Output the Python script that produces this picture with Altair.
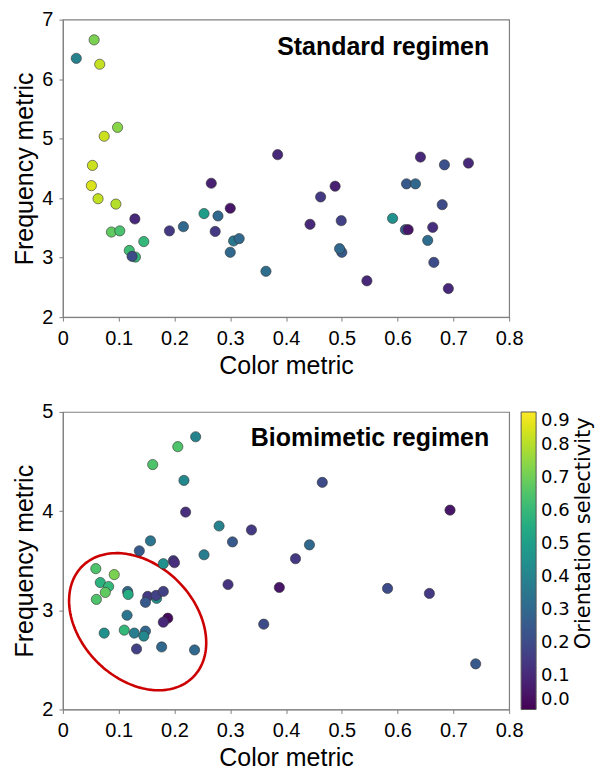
import altair as alt
import pandas as pd
import numpy as np

FONT = "Liberation Sans"
CB_FONT = "DejaVu Sans"

# ---------------- data ----------------
std_x = [0.024, 0.056, 0.066, 0.098, 0.074, 0.053, 0.051, 0.063, 0.095, 0.129,
         0.087, 0.102, 0.119, 0.130, 0.124, 0.145, 0.191, 0.216, 0.253, 0.266,
         0.278, 0.273, 0.300, 0.306, 0.316, 0.300, 0.364, 0.385, 0.443, 0.462,
         0.488, 0.499, 0.500, 0.496, 0.545, 0.591, 0.616, 0.632, 0.614, 0.619,
         0.641, 0.684, 0.727, 0.680, 0.663, 0.654, 0.665, 0.691]
std_y = [6.35, 6.66, 6.25, 5.19, 5.04, 4.55, 4.21, 3.99, 3.90, 3.65,
         3.43, 3.45, 3.12, 3.01, 3.02, 3.27, 3.45, 3.52, 3.74, 4.25,
         3.70, 3.44, 3.83, 3.28, 3.32, 3.09, 2.77, 4.73, 3.56, 4.02,
         4.20, 3.62, 3.09, 3.15, 2.61, 3.66, 4.24, 4.24, 3.47, 3.47,
         4.69, 4.56, 4.59, 3.89, 3.51, 3.29, 2.92, 2.48]
std_c = [0.40, 0.72, 0.82, 0.74, 0.83, 0.83, 0.85, 0.82, 0.80, 0.10,
         0.68, 0.64, 0.62, 0.60, 0.20, 0.60, 0.15, 0.30, 0.50, 0.08,
         0.30, 0.15, 0.05, 0.36, 0.30, 0.30, 0.32, 0.10, 0.10, 0.15,
         0.08, 0.17, 0.25, 0.30, 0.10, 0.45, 0.25, 0.30, 0.25, 0.05,
         0.10, 0.22, 0.10, 0.20, 0.12, 0.32, 0.20, 0.10]

bio_x = [0.238, 0.206, 0.161, 0.217, 0.220, 0.280, 0.338, 0.304, 0.157, 0.137,
         0.253, 0.442, 0.417, 0.465, 0.180, 0.198, 0.200, 0.059, 0.092, 0.067,
         0.082, 0.076, 0.060, 0.116, 0.117, 0.152, 0.168, 0.167, 0.180, 0.148,
         0.115, 0.188, 0.180, 0.074, 0.110, 0.128, 0.148, 0.145, 0.132, 0.177,
         0.236, 0.296, 0.388, 0.360, 0.694, 0.582, 0.657, 0.740]
bio_y = [4.75, 4.65, 4.47, 4.31, 3.99, 3.85, 3.81, 3.69, 3.70, 3.60,
         3.56, 3.66, 3.52, 4.29, 3.47, 3.50, 3.48, 3.42, 3.36, 3.28,
         3.24, 3.18, 3.11, 3.19, 3.16, 3.14, 3.12, 3.15, 3.19, 3.08,
         2.95, 2.92, 2.88, 2.77, 2.80, 2.77, 2.79, 2.74, 2.61, 2.63,
         2.60, 3.26, 3.23, 2.86, 4.01, 3.22, 3.17, 2.46]
bio_c = [0.40, 0.65, 0.65, 0.42, 0.12, 0.40, 0.15, 0.25, 0.35, 0.25,
         0.38, 0.30, 0.15, 0.20, 0.45, 0.15, 0.12, 0.65, 0.72, 0.58,
         0.60, 0.68, 0.65, 0.30, 0.55, 0.15, 0.45, 0.17, 0.17, 0.25,
         0.35, 0.02, 0.10, 0.45, 0.60, 0.38, 0.30, 0.42, 0.17, 0.30,
         0.30, 0.13, 0.05, 0.20, 0.05, 0.20, 0.15, 0.25]

x_ticks = [0.0, 0.1, 0.2, 0.3, 0.4, 0.5, 0.6, 0.7, 0.8]
std_y_ticks = [2, 3, 4, 5, 6, 7]
bio_y_ticks = [2, 3, 4, 5]
cbar_ticks = [0.0, 0.1, 0.2, 0.3, 0.4, 0.5, 0.6, 0.7, 0.8, 0.9]

# highlighted cluster ellipse (center in data units, semi-axes in px, tilt in deg)
ell_center = (0.134, 2.885)
ell_axes_px = (78.5, 57.2)
ell_angle = 45.0

W, H = 447, 298

std_df = pd.DataFrame({"x": std_x, "y": std_y, "c": std_c})
bio_df = pd.DataFrame({"x": bio_x, "y": bio_y, "c": bio_c})

t = np.linspace(0, 2 * np.pi, 181)
th = np.deg2rad(ell_angle)
a, b = ell_axes_px
dx = a * np.cos(t) * np.cos(th) - b * np.sin(t) * np.sin(th)
dy = a * np.cos(t) * np.sin(th) + b * np.sin(t) * np.cos(th)
ell_df = pd.DataFrame({
    "x": ell_center[0] + dx / (W / 0.8),
    "y": ell_center[1] - dy / (H / 3.0),
    "i": np.arange(len(t)),
})

x_label_expr = "datum.value == 0 ? '0' : format(datum.value, '.1f')"


def x_enc():
    return alt.X("x:Q", scale=alt.Scale(domain=[0, 0.8], nice=False, zero=False),
                 axis=alt.Axis(values=x_ticks, labelExpr=x_label_expr, title="Color metric",
                               tickSize=4, labelPadding=7, titlePadding=5, grid=False,
                               labelFlush=False))


def y_enc(dom, ticks):
    return alt.Y("y:Q", scale=alt.Scale(domain=dom, nice=False, zero=False),
                 axis=alt.Axis(values=ticks, format="d", title="Frequency metric",
                               tickSize=4, labelPadding=6, titlePadding=4, grid=False))


color_scale = alt.Scale(scheme="viridis", domain=[0, 0.9])

std_points = alt.Chart(std_df).mark_circle(size=105, opacity=1, stroke="#333333", strokeWidth=0.6).encode(
    x=x_enc(),
    y=y_enc([2, 7], std_y_ticks),
    color=alt.Color("c:Q", scale=color_scale, legend=None),
)
std_text = alt.Chart(pd.DataFrame({"t": ["Standard regimen"]})).mark_text(
    align="right", baseline="alphabetic", font=FONT, fontSize=25, fontWeight="bold", color="black"
).encode(x=alt.value(427), y=alt.value(35.5), text="t:N")

top = alt.layer(std_points, std_text).properties(width=W, height=H)

bio_points = alt.Chart(bio_df).mark_circle(size=105, opacity=1, stroke="#333333", strokeWidth=0.6).encode(
    x=x_enc(),
    y=y_enc([2, 5], bio_y_ticks),
    color=alt.Color("c:Q", scale=color_scale, legend=alt.Legend(
        title=None, orient="right", offset=12, padding=0,
        direction="vertical", gradientLength=H, gradientThickness=15,
        gradientStrokeColor="#555555", gradientStrokeWidth=1,
        values=cbar_ticks, format=".1f", labelFont=CB_FONT, labelFontSize=18, labelColor="black",
        labelOffset=5, labelOverlap=False, labelBaseline="middle",
    )),
)
ellipse = alt.Chart(ell_df).mark_line(color="#cc0000", strokeWidth=2.6).encode(
    x="x:Q", y="y:Q", order="i:Q"
)
bio_text = alt.Chart(pd.DataFrame({"t": ["Biomimetic regimen"]})).mark_text(
    align="right", baseline="alphabetic", font=FONT, fontSize=25, fontWeight="bold", color="black"
).encode(x=alt.value(427), y=alt.value(34.5), text="t:N")
cbar_title = alt.Chart(pd.DataFrame({"t": ["Orientation selectivity"]})).mark_text(
    align="center", baseline="middle", angle=270, font=CB_FONT, fontSize=21, color="black"
).encode(x=alt.value(521.5), y=alt.value(121.5), text="t:N")

bottom = alt.layer(ellipse, bio_points, bio_text, cbar_title).properties(width=W, height=H)

chart = alt.vconcat(top, bottom, spacing=22).resolve_scale(color="independent").properties(
    padding={"left": 4, "top": 0, "right": 0, "bottom": 0}
).configure_view(
    stroke="#808080", strokeWidth=1.2
).configure_axis(
    domainColor="#808080", tickColor="#808080", labelFont=FONT, labelFontSize=20,
    titleFont=FONT, titleFontSize=25, titleFontWeight="normal",
    labelColor="black", titleColor="black",
)

chart.save("out.html", embed_options={"renderer": "svg", "actions": False})
